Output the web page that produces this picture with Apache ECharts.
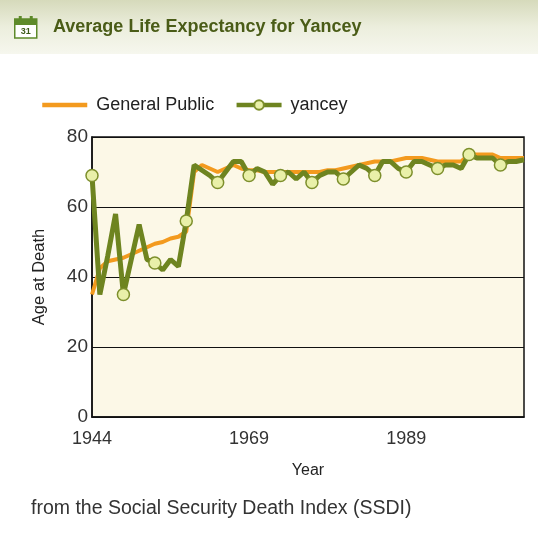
<!DOCTYPE html>
<html>
<head>
<meta charset="utf-8">
<script src="https://cdn.jsdelivr.net/npm/echarts@6/dist/echarts.min.js"></script>
<style>
html, body { margin: 0; padding: 0; background: #fff; }
#main { width: 538px; height: 540px; }
</style>
</head>
<body>
<div id="main"></div>
<script>
// categories: 56 points, 1944 .. 2004 (a few early years are missing)
var years = ['1944', '1946', '1948', '1950', '1952', '1954', '1955', '1956', '1957', '1958',
    '1959', '1960', '1961', '1962', '1963', '1964', '1965', '1966', '1967', '1968',
    '1969', '1970', '1971', '1972', '1973', '1974', '1975', '1976', '1977', '1978',
    '1979', '1980', '1981', '1982', '1983', '1984', '1985', '1986', '1987', '1988',
    '1989', '1990', '1991', '1992', '1993', '1994', '1995', '1996', '1997', '1998',
    '1999', '2000', '2001', '2002', '2003', '2004'];

var generalPublic = [35, 42.5, 44.5, 45, 45.5, 46.5, 47.5, 48.5, 49.5, 50,
    51, 51.5, 53, 70, 72, 71, 70, 71, 72, 71,
    70.5, 70.5, 70, 70, 70, 70, 70, 70, 70, 70,
    70.5, 70.5, 71, 71.5, 72, 72.5, 73, 73, 73, 73.5,
    74, 74, 74, 73.5, 73, 73, 73, 73, 75, 75,
    75, 75, 74, 74, 74, 74];

var yancey = [69, 35, 46, 58, 35, 45, 55, 45, 44, 42,
    45, 43, 56, 72, 70.5, 69, 67, 70, 73, 73,
    69, 71, 70, 66.5, 69, 70, 68, 70, 67, 69,
    70, 70, 68, 70, 72, 71, 69, 73, 73, 71,
    70, 73, 73, 72, 71, 72, 72, 71, 75, 74,
    74, 74, 72, 73, 73, 73.5];

var yTicks = [0, 20, 40, 60, 80];

var chart = echarts.init(document.getElementById('main'));

var option = {
    backgroundColor: '#fff',
    animation: false,
    textStyle: { fontFamily: 'Liberation Sans, Arial, sans-serif' },
    graphic: [
        // header band
        {
            type: 'rect', left: 0, top: 0, z: 0,
            shape: { width: 538, height: 54 },
            style: {
                fill: new echarts.graphic.LinearGradient(0, 0, 0, 1, [
                    { offset: 0, color: '#d6dabb' },
                    { offset: 0.5, color: '#eceedd' },
                    { offset: 1, color: '#f6f7ee' }
                ])
            }
        },
        // calendar icon
        {
            type: 'group', left: 14, top: 16, z: 2,
            children: [
                { type: 'rect', shape: { x: 0, y: 3, width: 22, height: 19 }, style: { fill: '#fff', stroke: '#5e8a2a', lineWidth: 1.5 } },
                { type: 'rect', shape: { x: 0, y: 3, width: 22, height: 6 }, style: { fill: '#5e8a2a' } },
                { type: 'rect', shape: { x: 4, y: 0, width: 3, height: 5 }, style: { fill: '#5e8a2a' } },
                { type: 'rect', shape: { x: 15, y: 0, width: 3, height: 5 }, style: { fill: '#5e8a2a' } },
                { type: 'text', x: 11, y: 16, style: { text: '31', fill: '#3d5a1a', font: 'bold 9px Liberation Sans', align: 'center', verticalAlign: 'middle' } }
            ]
        },
        {
            type: 'text', left: 53, top: 18, z: 2,
            style: {
                text: 'Average Life Expectancy for Yancey',
                fill: '#4a5c17',
                font: 'bold 18px Liberation Sans, Arial, sans-serif'
            }
        },
        {
            type: 'text', left: 31, top: 499, z: 2,
            style: {
                text: 'from the Social Security Death Index (SSDI)',
                fill: '#333',
                font: '19.5px Liberation Sans, Arial, sans-serif'
            }
        }
    ],
    legend: {
        left: 40,
        top: 96,
        padding: 0,
        itemWidth: 45,
        itemHeight: 12,
        itemGap: 20,
        lineStyle: { width: 4.5 },
        textStyle: { fontSize: 18, color: '#222', padding: [0, 0, 0, 4] },
        data: [
            { name: 'General Public', itemStyle: { opacity: 0 } },
            { name: 'yancey' }
        ]
    },
    grid: {
        left: 92,
        top: 137,
        right: 14,
        bottom: 123,
        show: true,
        backgroundColor: '#fcf8e7',
        borderColor: '#111',
        borderWidth: 1.5
    },
    xAxis: {
        type: 'category',
        data: years,
        boundaryGap: false,
        name: 'Year',
        nameLocation: 'middle',
        nameGap: 46,
        nameTextStyle: { fontSize: 16, color: '#222' },
        axisLine: { show: true, lineStyle: { color: '#111', width: 1.5 } },
        axisTick: { show: false },
        axisLabel: {
            interval: 19,
            fontSize: 18,
            color: '#333',
            margin: 13
        },
        splitLine: { show: false }
    },
    yAxis: {
        type: 'value',
        min: yTicks[0],
        max: yTicks[yTicks.length - 1],
        interval: 20,
        name: 'Age at Death',
        nameLocation: 'middle',
        nameGap: 44,
        nameTextStyle: { fontSize: 16.5, color: '#222' },
        axisLine: { show: true, lineStyle: { color: '#111', width: 1.5 } },
        axisTick: { show: false },
        axisLabel: { fontSize: 19, color: '#333', margin: 4 },
        splitLine: { show: true, lineStyle: { color: '#111', width: 1.2 } }
    },
    series: [
        {
            name: 'General Public',
            type: 'line',
            data: generalPublic,
            symbol: 'none',
            color: '#f39a1e',
            lineStyle: { color: '#f39a1e', width: 4 },
            z: 2
        },
        {
            name: 'yancey',
            type: 'line',
            data: yancey,
            color: '#6e8420',
            showAllSymbol: true,
            symbol: function (value, params) {
                return params.dataIndex % 4 === 0 ? 'circle' : 'none';
            },
            symbolSize: 12,
            itemStyle: { color: '#e9f0a9', borderColor: '#7d8f2c', borderWidth: 1.5 },
            lineStyle: { color: '#6e8420', width: 5 },
            z: 3
        }
    ]
};

chart.setOption(option);
</script>
</body>
</html>
